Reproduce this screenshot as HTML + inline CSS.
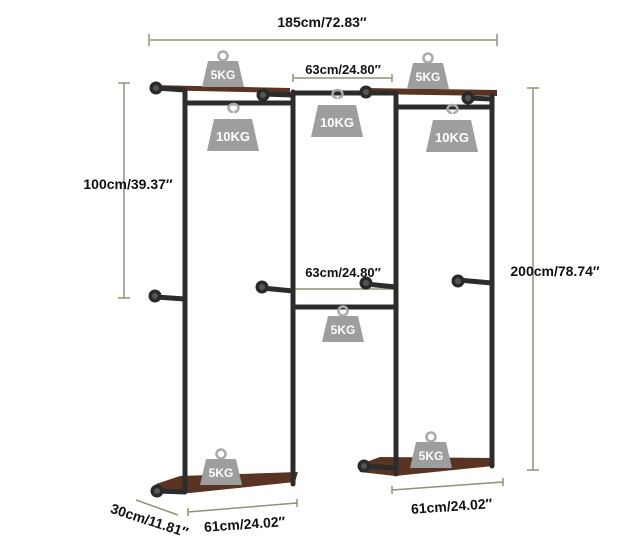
<!DOCTYPE html>
<html><head><meta charset="utf-8"><style>
html,body{margin:0;padding:0;background:#fff;}
svg{display:block;font-family:"Liberation Sans",sans-serif;}
</style></head><body>
<svg width="622" height="552" viewBox="0 0 622 552" xmlns="http://www.w3.org/2000/svg">
<defs>
<g id="w5"><circle cx="0" cy="-16" r="4.5" fill="none" stroke="#aaa" stroke-width="2.5"/><path d="M-15,-11 H15 L21,15 H-21 Z" fill="#9e9e9e"/><text x="0" y="7" font-size="12" font-weight="bold" fill="#fff" text-anchor="middle">5KG</text></g>
<g id="w10"><path d="M0,-22 a5,4 0 1 1 1,0" fill="none" stroke="#aaa" stroke-width="2.5"/><path d="M-19,-15 H19 L26,17 H-26 Z" fill="#9e9e9e"/><text x="0" y="7" font-size="13" font-weight="bold" fill="#fff" text-anchor="middle">10KG</text></g>
<g id="m"><circle r="6.5" fill="#2a2a2a"/><circle r="3" fill="#555"/></g>
</defs>
<g stroke="#8a957a" stroke-width="1.5" fill="none">
<path d="M149,34 V46 M149,40 H497 M497,34 V46"/>
<path d="M118,83 H130 M124,83 V298 M118,298 H130"/>
<path d="M527,88 H539 M533,88 V470 M527,470 H539"/>
<path d="M293,74 V82 M293,78 H392 M392,74 V82"/>
<path d="M293,289 H394"/>
<path d="M188,508 V516 M188,512 L297,503 M297,499 V507"/>
<path d="M392,486 V494 M392,490 L503,482 M503,478 V486"/>
<path d="M136,500 L178,515"/>
</g>
<g font-weight="bold" fill="#111">
<text x="322" y="27" font-size="14" text-anchor="middle">185cm/72.83″</text>
<text x="128" y="189" font-size="14" text-anchor="middle">100cm/39.37″</text>
<text x="555" y="276" font-size="14" text-anchor="middle">200cm/78.74″</text>
<text x="343" y="74" font-size="13" text-anchor="middle">63cm/24.80″</text>
<text x="343" y="277" font-size="13" text-anchor="middle">63cm/24.80″</text>
<text x="245" y="529" font-size="14" text-anchor="middle" transform="rotate(-4 245 529)">61cm/24.02″</text>
<text x="452" y="511" font-size="14" text-anchor="middle" transform="rotate(-4 452 511)">61cm/24.02″</text>
<text x="148" y="525" font-size="14" text-anchor="middle" transform="rotate(18 148 525)">30cm/11.81″</text>
</g>
<path d="M150,85 L290,88 L290,93 L150,90 Z" fill="#5a3422"/>
<path d="M362,88 L497,90 L497,96 L362,94 Z" fill="#5a3422"/>
<path d="M156,484 L180,476 L298,472 L295,482 L190,493 L158,492 Z" fill="#5a3422"/>
<path d="M358,465 L380,457 L493,458 L493,466 L395,476 L360,472 Z" fill="#5a3422"/>
<g stroke="#2c2c2c" stroke-width="5" fill="none" stroke-linecap="round">
<path d="M185,90 V490"/><path d="M293,92 V484"/>
<path d="M396,96 V474"/><path d="M492,96 V466"/>
<path d="M185,103 H293"/><path d="M293,93 H396"/><path d="M396,107 H492"/>
<path d="M293,307 H396"/>
<path d="M156,297 L185,299"/><path d="M262,288 L293,291"/><path d="M366,284 L396,287"/><path d="M458,280 L492,283"/>
<path d="M156,88 L185,90"/><path d="M263,94 L293,95"/><path d="M468,98 L492,99"/>
<path d="M157,491 L185,492"/><path d="M362,466 L396,468"/>
</g>
<use href="#m" x="156" y="88"/><use href="#m" x="263" y="95"/><use href="#m" x="468" y="98"/><use href="#m" x="366" y="92"/>
<use href="#m" x="155" y="296"/><use href="#m" x="262" y="287"/><use href="#m" x="366" y="283"/><use href="#m" x="458" y="281"/>
<use href="#m" x="157" y="491"/><use href="#m" x="364" y="466"/>
<use href="#w5" x="223" y="72"/><use href="#w5" x="428" y="74"/>
<use href="#w10" x="233" y="134"/><use href="#w10" x="337" y="120"/><use href="#w10" x="452" y="135"/>
<use href="#w5" x="343" y="327"/><use href="#w5" x="221" y="470"/><use href="#w5" x="431" y="453"/>
</svg>
</body></html>
